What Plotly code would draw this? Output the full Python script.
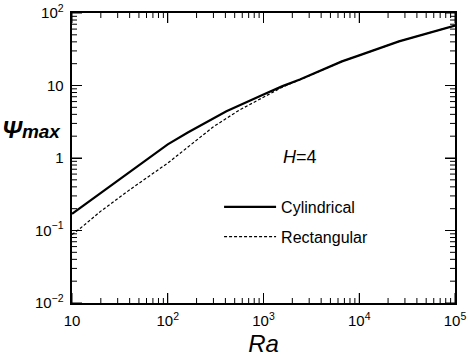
import plotly.graph_objects as go

# Cylindrical (solid)
ra_cyl = [10, 15, 26, 50, 100, 162, 410, 1000, 1580, 2400, 6600, 10000, 26000, 100000]
psi_cyl = [0.17, 0.25, 0.43, 0.80, 1.54, 2.25, 4.4, 7.5, 9.8, 12.1, 21.5, 26.0, 40.6, 67.0]

# Rectangular (dashed)
ra_rect = [10, 12, 20, 43, 100, 162, 300, 562, 1000, 1600, 2400, 6600, 10000, 26000, 100000]
psi_rect = [0.088, 0.105, 0.185, 0.39, 0.85, 1.4, 2.7, 4.6, 6.8, 9.6, 12.0, 21.5, 26.0, 40.6, 67.0]

x_decades = [1, 2, 3, 4, 5]          # 10 .. 10^5
y_decades = [-2, -1, 0, 1, 2]        # 10^-2 .. 10^2
minor_mult = [2, 3, 4, 5, 6, 7, 8, 9]

x_major = [10.0 ** k for k in x_decades]
y_major = [10.0 ** k for k in y_decades]
x_minor = [m * 10.0 ** k for k in x_decades[:-1] for m in minor_mult]
y_minor = [m * 10.0 ** k for k in y_decades[:-1] for m in minor_mult]

FONT = "Liberation Sans, Arial, Helvetica, sans-serif"

fig = go.Figure()
fig.add_trace(go.Scatter(x=ra_cyl, y=psi_cyl, mode="lines", name="Cylindrical",
                         line=dict(color="black", width=2.2), legendgroup="a"))
fig.add_trace(go.Scatter(x=ra_rect, y=psi_rect, mode="lines", name="Rectangular",
                         line=dict(color="black", width=1.2, dash="3px,2px"), legendgroup="b"))

base = dict(type="log", showgrid=False, zeroline=False, automargin=False,
            showline=True, linecolor="black", linewidth=2, mirror="ticks",
            ticks="inside", ticklen=10, tickwidth=1, tickcolor="black",
            tickmode="linear", tick0=0, dtick=1, exponentformat="power",
            tickfont=dict(family=FONT, size=12, color="black"), ticklabeloverflow="allow",
            ticklabelstandoff=4)

fig.update_layout(
    template="none",
    xaxis=dict(range=[x_decades[0], x_decades[-1]],
               title=dict(text="<i>Ra</i>", font=dict(family=FONT, size=24, color="black"), standoff=7),
               **base),
    yaxis=dict(range=[y_decades[0], y_decades[-1]], **base),
)

# inward tick marks on all four sides, as pixel-sized shapes anchored to the frame
shapes = []
tick_line = dict(color="black", width=1)
for vals, length in [(x_major, 10), (x_minor, 5)]:
    for v in vals:
        shapes.append(dict(type="line", xref="x", yref="paper", ysizemode="pixel", yanchor=0,
                           x0=v, x1=v, y0=0, y1=length, line=tick_line, layer="above"))
        shapes.append(dict(type="line", xref="x", yref="paper", ysizemode="pixel", yanchor=1,
                           x0=v, x1=v, y0=0, y1=-length, line=tick_line, layer="above"))
for vals, length in [(y_major, 10), (y_minor, 5)]:
    for v in vals:
        shapes.append(dict(type="line", xref="paper", yref="y", xsizemode="pixel", xanchor=0,
                           x0=0, x1=length, y0=v, y1=v, line=tick_line, layer="above"))
        shapes.append(dict(type="line", xref="paper", yref="y", xsizemode="pixel", xanchor=1,
                           x0=0, x1=-length, y0=v, y1=v, line=tick_line, layer="above"))
fig.update_layout(shapes=shapes)

fig.add_annotation(xref="paper", yref="paper", x=-0.0235, y=0.6, xanchor="right", yanchor="middle",
                   text="<b><i><span style='font-size:24px'>Ψ</span><span style='font-size:19px'>max</span></i></b>",
                   showarrow=False, font=dict(family=FONT, color="black"))
fig.add_annotation(xref="paper", yref="paper", x=0.595, y=0.503, xanchor="center", yanchor="middle",
                   text="<i>H</i>=4", showarrow=False,
                   font=dict(family=FONT, size=18, color="black"))

fig.update_layout(
    width=469, height=362,
    margin=dict(l=72, r=14, t=13, b=59),
    paper_bgcolor="white", plot_bgcolor="white",
    showlegend=True,
    legend=dict(x=0.384, y=0.39, xanchor="left", yanchor="top", bgcolor="rgba(0,0,0,0)",
                font=dict(family=FONT, size=16, color="black"), traceorder="grouped",
                tracegroupgap=6, itemwidth=52),
)

fig.write_html("out.html", config={"displayModeBar": False},
               post_script="document.body.style.margin='0px';")
